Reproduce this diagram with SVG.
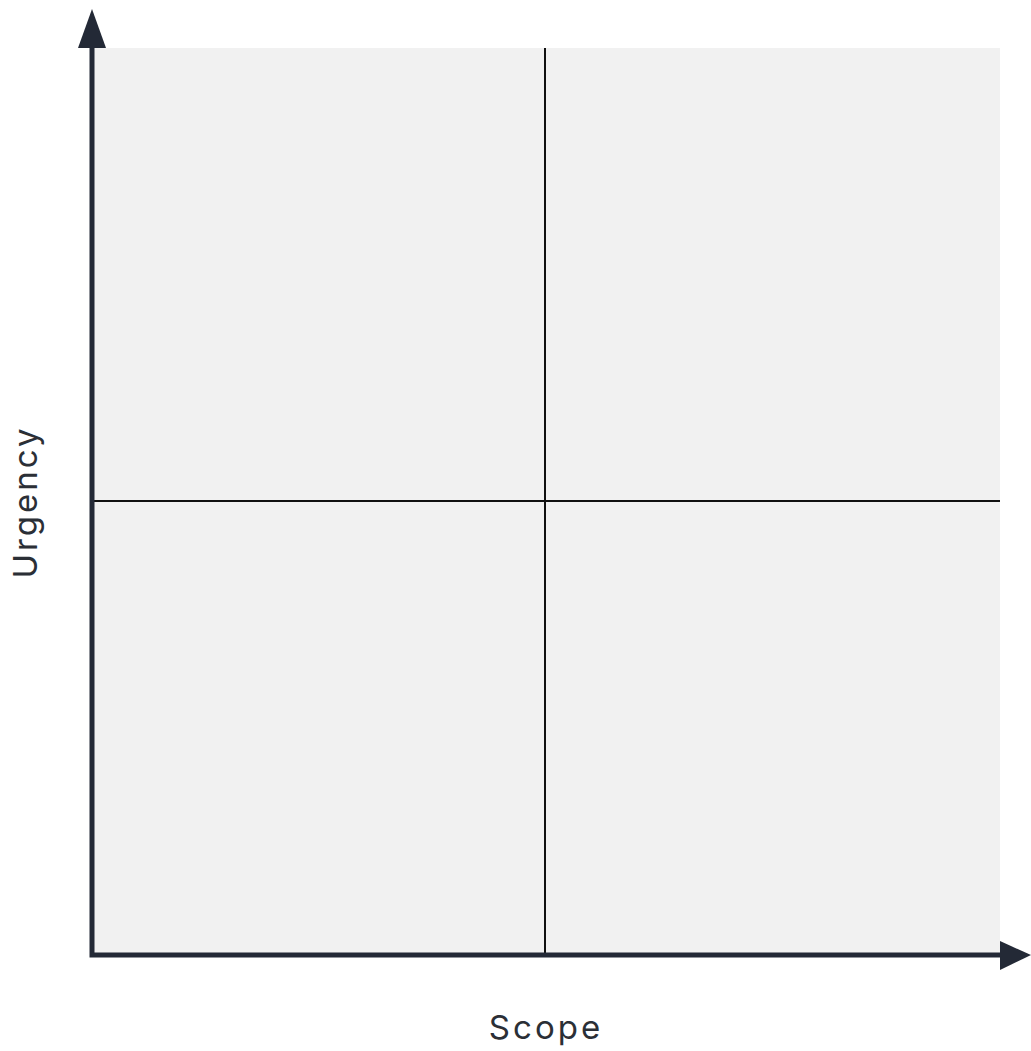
<svg xmlns="http://www.w3.org/2000/svg" width="1031" height="1051" viewBox="0 0 1031 1051">
<style>
.lbl{font-family:Inter,"Liberation Sans",sans-serif;font-size:33px;letter-spacing:3px;fill:#2b2f36}
.axis{stroke:#232936;stroke-width:5;fill:none}
.mid{stroke:#111111;stroke-width:2;fill:none}
.head{fill:#232936}
</style>
<rect width="1031" height="1051" fill="#ffffff"/>
<g id="plot">
<rect x="92" y="48" width="908" height="907" fill="#f1f1f1"/>
</g>
<g id="connectors">
<line class="mid" x1="545" y1="48" x2="545" y2="955"/>
<line class="mid" x1="92" y1="501" x2="1000" y2="501"/>
<polyline class="axis" points="92,48 92,955 1000,955"/>
<polygon class="head" points="92,9 78,48 106,48"/>
<polygon class="head" points="1031,955 1000,941 1000,970"/>
</g>
<g id="labels">
<text class="lbl" x="546" y="1039" text-anchor="middle">Scope</text>
<text class="lbl" transform="translate(37,502) rotate(-90)" text-anchor="middle">Urgency</text>
</g>
</svg>
